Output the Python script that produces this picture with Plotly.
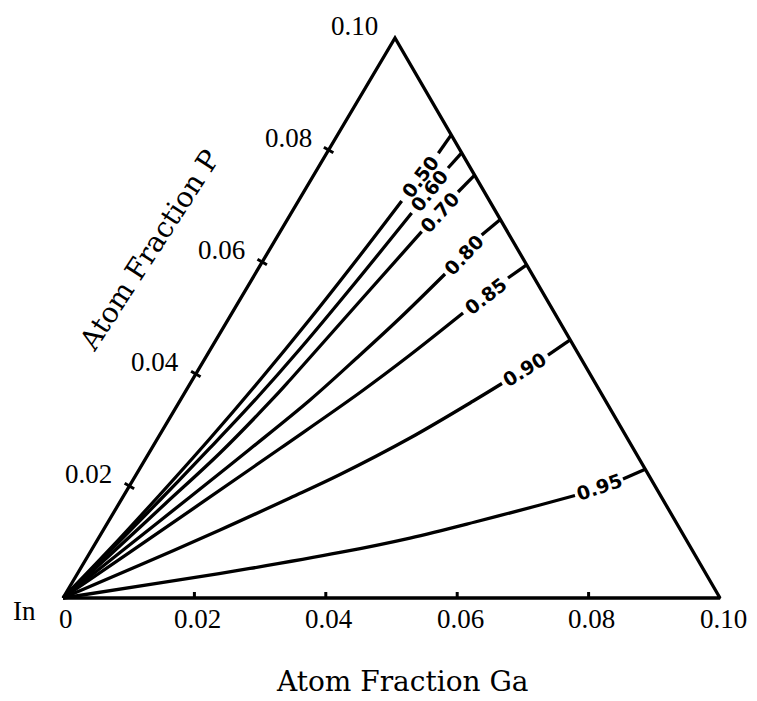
import math
import plotly.graph_objects as go

# ---------------- data (atom fractions) ----------------
# Each iso-composition curve: main run from the In corner up to its label,
# None = gap holding the label, then the short tail from the label to the edge.
curve_labels = ["0.50", "0.60", "0.70", "0.80", "0.85", "0.90", "0.95"]

ga_050 = [0, 0.00273, 0.00543, 0.00798, 0.01031, 0.01242, 0.01430, 0.01573, None, 0.01700, 0.0173]
p_050 = [0, 0.00875, 0.01848, 0.02848, 0.03893, 0.04982, 0.06116, 0.07089, None, 0.07941, 0.0827]

ga_060 = [0, 0.00291, 0.00592, 0.00884, 0.01136, 0.01360, 0.01602, 0.01833, None, 0.01980, 0.0205]
p_060 = [0, 0.00839, 0.01750, 0.02679, 0.03536, 0.04446, 0.05625, 0.06875, None, 0.07679, 0.0795]

ga_070 = [0, 0.00327, 0.00704, 0.01081, 0.01390, 0.01488, 0.01841, 0.02154, None, 0.02349, 0.0245]
p_070 = [0, 0.00768, 0.01679, 0.02589, 0.03536, 0.03893, 0.05304, 0.06541, None, 0.07250, 0.0755]

ga_080 = [0, 0.00457, 0.01022, 0.01502, 0.01973, 0.02328, 0.02603, 0.02891, None, 0.03097, 0.0324]
p_080 = [0, 0.00813, 0.01804, 0.02661, 0.03536, 0.04339, 0.05000, 0.05786, None, 0.06482, 0.0676]

ga_085 = [0, 0.00605, 0.01237, 0.01954, 0.02666, 0.03089, 0.03517, None, 0.03886, 0.0405]
p_085 = [0, 0.00821, 0.01679, 0.02670, 0.03670, 0.04339, 0.05089, None, 0.05714, 0.0595]

ga_090 = [0, 0.00874, 0.01776, 0.02553, 0.03102, 0.03838, 0.04467, 0.04746, None, 0.05189, 0.0539]
p_090 = [0, 0.00589, 0.01214, 0.01786, 0.02205, 0.02857, 0.03518, 0.03830, None, 0.04339, 0.0461]

ga_095 = [0, 0.01341, 0.02580, 0.03806, 0.04740, 0.05585, 0.06421, 0.06868, None, 0.07450, 0.0770]
p_095 = [0, 0.00268, 0.00527, 0.00813, 0.01071, 0.01357, 0.01661, 0.01830, None, 0.02125, 0.0230]

curves_ga = [ga_050, ga_060, ga_070, ga_080, ga_085, ga_090, ga_095]
curves_p = [p_050, p_060, p_070, p_080, p_085, p_090, p_095]

# triangle corners: In (pure), Ga = 0.10, P = 0.10
tri_ga = [0, 0.10, 0, 0]
tri_p = [0, 0, 0.10, 0]

ga_ticks = [0, 0.02, 0.04, 0.06, 0.08, 0.10]
ga_ticktext = ["0", "0.02", "0.04", "0.06", "0.08", "0.10"]
p_ticks = [0.02, 0.04, 0.06, 0.08, 0.10]
p_ticktext = ["0.02", "0.04", "0.06", "0.08", "0.10"]
ga_marks = [0.02, 0.04, 0.06, 0.08]
p_marks = [0.02, 0.04, 0.06, 0.08]

# ---------------- geometry of the drawn triangle ----------------
W, H = 757, 701
PAGE_MARGIN = 8                 # default body margin of the html page
PX_PER_UNIT = 6570.0            # pixels per unit of base length
ORIGIN_PX = (63 - PAGE_MARGIN, 598 - PAGE_MARGIN)   # In corner inside the figure
APEX_X = 3320 / 6570            # apex offset along base / base length
APEX_Y = 5600 / 6570            # apex height / base length


def proj(ga, p):
    if ga is None or p is None:
        return None, None
    return ga + p * APEX_X, p * APEX_Y


def proj_list(gas, ps):
    xs, ys = [], []
    for g, p in zip(gas, ps):
        x, y = proj(g, p)
        xs.append(x)
        ys.append(y)
    return xs, ys


LINE = dict(color="black", width=3.3)
fig = go.Figure()

# triangle outline
tx, ty = proj_list(tri_ga, tri_p)
fig.add_trace(go.Scatter(x=tx, y=ty, mode="lines", line=LINE, hoverinfo="skip"))

# curves
annotations = []
for lab, gas, ps in zip(curve_labels, curves_ga, curves_p):
    xs, ys = proj_list(gas, ps)
    fig.add_trace(go.Scatter(x=xs, y=ys, mode="lines",
                             line=dict(color="black", width=3.3, shape="spline", smoothing=1.0),
                             hoverinfo="skip", connectgaps=False))
    k = xs.index(None)
    x0, y0 = xs[k - 1], ys[k - 1]
    x1, y1 = xs[k + 1], ys[k + 1]
    ang = math.degrees(math.atan2(y1 - y0, x1 - x0))
    annotations.append(dict(x=(x0 + x1) / 2, y=(y0 + y1) / 2, xref="x", yref="y",
                            text="<b>" + lab + "</b>", showarrow=False,
                            textangle=-ang, xanchor="center", yanchor="middle",
                            font=dict(family="DejaVu Sans", size=19, color="black")))

# tick marks
half = 5.5 / PX_PER_UNIT
nlen = math.hypot(APEX_X, APEX_Y)
nx, ny = APEX_Y / nlen, -APEX_X / nlen
mx, my = [], []
for p in p_marks:
    x, y = proj(0, p)
    mx += [x - nx * half, x + nx * half, None]
    my += [y - ny * half, y + ny * half, None]
for g in ga_marks:
    x, y = proj(g, 0)
    mx += [x, x, None]
    my += [0, 6 / PX_PER_UNIT, None]
fig.add_trace(go.Scatter(x=mx, y=my, mode="lines", line=dict(color="black", width=3),
                         hoverinfo="skip"))

TICKFONT = dict(family="Liberation Serif", size=27, color="black")
for g, t in zip(ga_ticks, ga_ticktext):
    x, y = proj(g, 0)
    annotations.append(dict(x=x, y=y, xref="x", yref="y", text=t, showarrow=False,
                            xanchor="center", yanchor="middle", xshift=3, yshift=-21,
                            font=TICKFONT))
for p, t in zip(p_ticks, p_ticktext):
    x, y = proj(0, p)
    annotations.append(dict(x=x, y=y, xref="x", yref="y", text=t, showarrow=False,
                            xanchor="right", yanchor="middle", xshift=-15, yshift=12,
                            font=TICKFONT))
ox, oy = proj(0, 0)
annotations.append(dict(x=ox, y=oy, xref="x", yref="y", text="In", showarrow=False,
                        xanchor="right", yanchor="middle", xshift=-25, yshift=-13,
                        font=TICKFONT))

TITLEFONT = dict(family="DejaVu Serif", size=28, color="black")
annotations.append(dict(x=(402 - PAGE_MARGIN) / W, y=1 - (681 - PAGE_MARGIN) / H,
                        xref="paper", yref="paper",
                        text="Atom Fraction Ga", showarrow=False,
                        xanchor="center", yanchor="middle", font=TITLEFONT))
annotations.append(dict(x=(149 - PAGE_MARGIN) / W, y=1 - (250 - PAGE_MARGIN) / H,
                        xref="paper", yref="paper",
                        text="Atom Fraction P", showarrow=False, textangle=-57,
                        xanchor="center", yanchor="middle", font=TITLEFONT))

x_lo = -ORIGIN_PX[0] / PX_PER_UNIT
x_hi = (W - ORIGIN_PX[0]) / PX_PER_UNIT
y_lo = -(H - ORIGIN_PX[1]) / PX_PER_UNIT
y_hi = ORIGIN_PX[1] / PX_PER_UNIT

fig.update_layout(
    width=W, height=H,
    margin=dict(l=0, r=0, t=0, b=0),
    paper_bgcolor="white", plot_bgcolor="white",
    showlegend=False,
    xaxis=dict(range=[x_lo, x_hi], visible=False, fixedrange=True),
    yaxis=dict(range=[y_lo, y_hi], visible=False, fixedrange=True),
    annotations=annotations,
)

fig.write_html("out.html")
